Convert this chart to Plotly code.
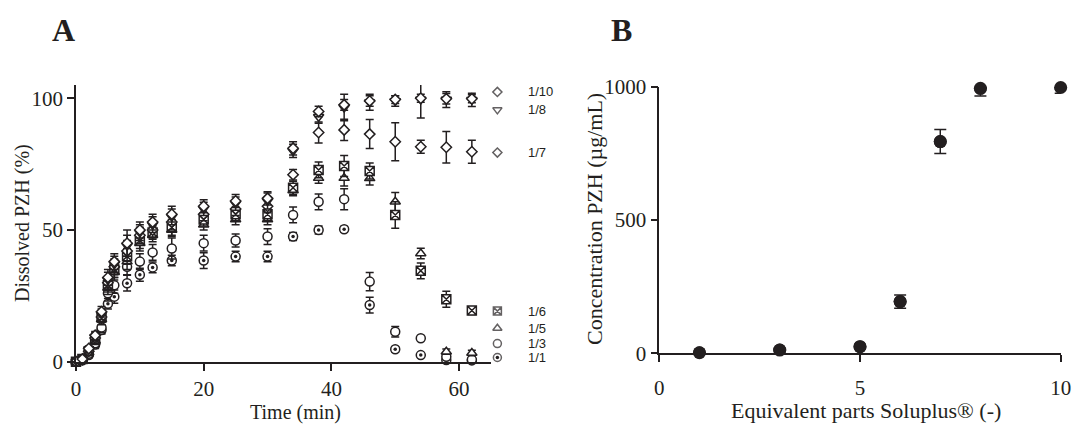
import plotly.graph_objects as go

INK = "#231f20"

# ---------------- Panel A data ----------------
times = [0, 1, 2, 3, 4, 5, 6, 8, 10, 12, 15, 20, 25, 30, 34, 38, 42, 46, 50, 54, 58, 62]

s_1_10 = [0, 1.0, 5.0, 10, 19, 32, 38, 45, 50, 53, 56, 59, 61, 62, 81, 95, 97.5, 99, 99.5, 100, 99.8, 99.8]
s_1_8 = [0, 0.8, 4.5, 9.5, 18, 31, 37, 44, 49, 52, 55, 58, 60, 61, 80, 93, 96.5, 98.5, 99, 99.5, 99.5, 99.4]
s_1_7 = [0, 0.8, 4.0, 9.0, 17, 30, 36, 42, 48, 50, 53, 56, 58, 59, 71, 87, 88, 86.4, 83.5, 81.6, 81.4, 79.7]
s_1_6 = [0, 1.0, 4.0, 8.5, 17, 29, 35, 40, 46, 49, 51, 54, 56, 56, 66, 72.8, 74.3, 72.4, 55.7, 34.5, 23.7, 19.4]
s_1_5 = [0, 1.0, 3.5, 8.0, 16, 28, 34, 38, 45, 48, 50, 52, 54, 54, 65, 69.7, 69.7, 69.6, 60.7, 41.1, 3.8, 3.3]
s_1_3 = [0, 0.8, 3.0, 7.0, 13, 26, 29, 36, 38, 41.5, 43, 45, 46, 47.5, 55.7, 60.7, 61.7, 30.4, 11.4, 8.9, 1.9, 0.8]
s_1_1 = [0, 0.5, 2.5, 6.5, 12, 22, 24.7, 29.8, 33, 35.8, 38.4, 38.4, 39.9, 39.9, 47.5, 50, 50.3, 21.5, 4.7, 2.5, 0.6, 0.5]

e_1_10 = [0, 0.5, 1, 1.5, 2, 3, 3, 5, 3, 3, 3, 2.5, 2.5, 2.5, 2.5, 2, 2, 2, 1.5, 1.5, 2, 1.5]
e_1_8 = [0, 0.5, 1, 1.5, 2, 3, 3, 4, 3, 3, 3, 2.5, 2.5, 3, 2.5, 2.5, 5, 3, 2, 7, 3, 2.5]
e_1_7 = [0, 0.5, 1, 1.5, 2, 2.5, 3, 4, 3, 3, 3, 2.5, 2.5, 2.5, 2, 4, 4, 5.5, 7.2, 2.5, 6, 4.4]
e_1_6 = [0, 0.5, 1, 1.5, 2, 2.5, 3, 3, 3, 2.5, 3, 2.5, 2.5, 2.5, 2.5, 3, 4, 3, 5, 3, 3, 1.5]
e_1_5 = [0, 0.5, 1, 1.5, 2, 2.5, 3, 3, 3, 2.5, 2.5, 2, 2, 2, 2, 2, 3, 2.5, 3.5, 2, 1, 1]
e_1_3 = [0, 0.5, 1, 1.5, 2, 3, 3, 3, 3, 3, 4, 3, 2.5, 3, 3, 3, 4, 3.5, 2, 0.5, 0.5, 0.5]
e_1_1 = [0, 0.5, 1, 1.5, 1.5, 2, 2.5, 3, 2.5, 2, 2, 3, 2, 2, 1.5, 1.5, 1, 3, 1, 0.5, 0.5, 0.5]

series_names = ["1/1", "1/3", "1/5", "1/6", "1/7", "1/8", "1/10"]
series_values = [s_1_1, s_1_3, s_1_5, s_1_6, s_1_7, s_1_8, s_1_10]
series_errors = [e_1_1, e_1_3, e_1_5, e_1_6, e_1_7, e_1_8, e_1_10]
series_symbols = ["circle", "circle", "triangle-up", "square-x", "diamond", "triangle-down", "diamond"]
series_sizes = [9, 9, 9, 9, 8, 9, 8]
dotted_series = "1/1"   # circle with a central dot

# legend placement (GraphPad-style labels at the right end of the curves)
legend_x = 66
legend_y = [1.6, 6.9, 12.7, 19.2, 79.4, 95.6, 102.4]

ticks_A_x = [0, 20, 40, 60]
ticks_A_y = [0, 50, 100]

# ---------------- Panel B data ----------------
parts = [1, 3, 5, 6, 7, 8, 10]
conc = [2, 12, 25, 194, 794, 994, 997]
conc_err = [0, 0, 0, 25, 45, 29, 22]

ticks_B_x = [0, 5, 10]
ticks_B_y = [0, 500, 1000]

W, H = 1072, 427
A_X0, A_X1 = 76.0, 491.0          # pixel extent of panel A x-axis (0..65 min)
A_XMAX = 65
A_LEG_X1 = 600.0                  # wider invisible axis used for the legend column
A_LEG_XMAX = A_XMAX * (A_LEG_X1 - A_X0) / (A_X1 - A_X0)

fig = go.Figure()

# Panel A traces
for name, vals, errs, sym, sz in zip(series_names, series_values, series_errors, series_symbols, series_sizes):
    fig.add_trace(go.Scatter(
        x=times, y=vals, mode="markers", name=name, xaxis="x", yaxis="y",
        marker=dict(symbol=sym, size=sz, color="white", line=dict(color=INK, width=1.5)),
        error_y=dict(type="data", array=errs, visible=True, color=INK, thickness=1.5, width=4),
        cliponaxis=False, showlegend=False,
    ))
    if name == dotted_series:
        fig.add_trace(go.Scatter(
            x=times, y=vals, mode="markers", xaxis="x", yaxis="y",
            marker=dict(symbol="circle", size=3.5, color=INK, line=dict(width=0)),
            cliponaxis=False, showlegend=False, hoverinfo="skip",
        ))

# legend symbols (on an invisible twin x-axis with the same scale but a wider span)
fig.add_trace(go.Scatter(
    x=[legend_x] * len(legend_y), y=legend_y, mode="markers", xaxis="x3", yaxis="y",
    marker=dict(symbol=series_symbols, size=[s - 1 for s in series_sizes], color="white",
                line=dict(color=INK, width=1.5)),
    cliponaxis=False, showlegend=False,
))
fig.add_trace(go.Scatter(
    x=[legend_x], y=[legend_y[series_names.index(dotted_series)]], mode="markers", xaxis="x3", yaxis="y",
    marker=dict(symbol="circle", size=3.5, color=INK, line=dict(width=0)),
    cliponaxis=False, showlegend=False, hoverinfo="skip",
))

# Panel B traces: error bars (clipped at the axis top) + markers (not clipped)
fig.add_trace(go.Scatter(
    x=parts, y=conc, mode="markers", xaxis="x2", yaxis="y2",
    marker=dict(symbol="circle", size=13, color=INK),
    error_y=dict(type="data", array=conc_err, visible=True, color=INK, thickness=1.5, width=6),
    cliponaxis=True, showlegend=False,
))
fig.add_trace(go.Scatter(
    x=parts, y=conc, mode="markers", xaxis="x2", yaxis="y2",
    marker=dict(symbol="circle", size=13, color=INK),
    cliponaxis=False, showlegend=False,
))

def axis(size, **kw):
    d = dict(
        showline=True, linecolor=INK, linewidth=1.6, ticks="outside", ticklen=7,
        tickwidth=1.6, tickcolor=INK, showgrid=False, zeroline=False, automargin=False,
        tickfont=dict(family="Liberation Serif", size=size, color=INK),
    )
    d.update(kw)
    return d

fig.update_layout(
    width=W, height=H, margin=dict(l=0, r=0, t=0, b=0, pad=0), autosize=False,
    paper_bgcolor="white", plot_bgcolor="rgba(0,0,0,0)",
    xaxis=axis(21, domain=[A_X0 / W, A_X1 / W], range=[0, A_XMAX], tickvals=ticks_A_x, anchor="y"),
    yaxis=axis(21, domain=[(H - 361.7) / H, (H - 85.1) / H], range=[0, 105], tickvals=ticks_A_y, anchor="x"),
    xaxis3=dict(domain=[A_X0 / W, A_LEG_X1 / W], range=[0, A_LEG_XMAX], visible=False, anchor="y",
                automargin=False, showgrid=False, zeroline=False),
    xaxis2=axis(21, domain=[659.3 / W, 1060.7 / W], range=[0, 10], tickvals=ticks_B_x, anchor="y2",
                ticklabelstandoff=8),
    yaxis2=axis(21, domain=[(H - 353.3) / H, (H - 86.7) / H], range=[0, 1000], tickvals=ticks_B_y, anchor="x2"),
)

serif = "Liberation Serif"
ann = [
    dict(text="<b>A</b>", x=63 / W, y=(H - 30) / H, font=dict(family=serif, size=32, color=INK)),
    dict(text="<b>B</b>", x=621 / W, y=(H - 30) / H, font=dict(family=serif, size=32, color=INK)),
    dict(text="Time (min)", x=295 / W, y=(H - 412) / H, font=dict(family=serif, size=20, color=INK)),
    dict(text="Equivalent parts Soluplus® (-)", x=866 / W, y=(H - 410) / H, font=dict(family=serif, size=22, color=INK)),
    dict(text="Dissolved PZH (%)", x=22 / W, y=(H - 223) / H, textangle=-90, font=dict(family=serif, size=20, color=INK)),
    dict(text="Concentration PZH (µg/mL)", x=594 / W, y=(H - 219) / H, textangle=-90, font=dict(family=serif, size=22, color=INK)),
]
for a in ann:
    fig.add_annotation(xref="paper", yref="paper", showarrow=False, xanchor="center", yanchor="middle", **a)

for name, ly in zip(series_names, legend_y):
    fig.add_annotation(xref="x3", yref="y", x=legend_x, y=ly, text=name, showarrow=False,
                       xanchor="left", yanchor="middle", xshift=30, borderpad=0,
                       font=dict(family="Liberation Sans", size=13, color=INK))

fig.write_html("out.html")
